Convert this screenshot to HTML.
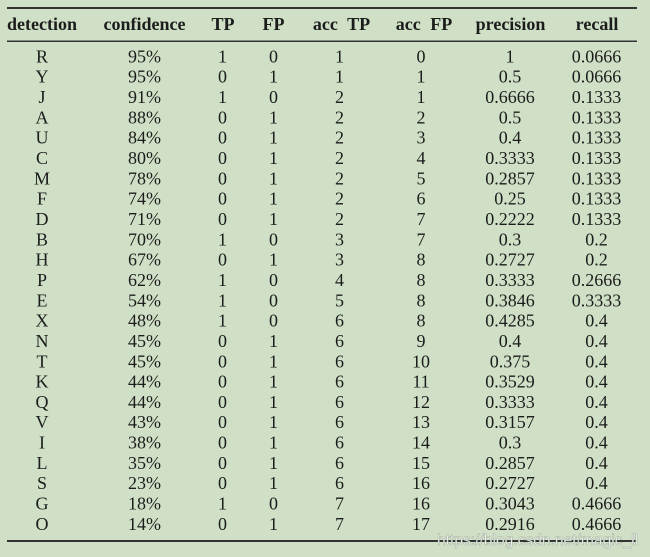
<!DOCTYPE html>
<html><head><meta charset="utf-8"><style>
html,body{margin:0;padding:0;background:#cfe0c6;}
svg{display:block;}
text{font-family:"Liberation Serif","Times New Roman",serif;font-size:18px;fill:#1c1c1c;}
.h{font-weight:bold;}
.wm{font-family:"Liberation Sans",Arial,sans-serif;font-size:15.6px;fill:#ffffff;fill-opacity:0.92;stroke:#8f998b;stroke-width:0.6;stroke-opacity:0.7;}
</style></head><body>
<svg width="650" height="557" viewBox="0 0 650 557" xmlns="http://www.w3.org/2000/svg">
<rect width="650" height="557" fill="#cfe0c6"/>
<rect x="7" y="7" width="630" height="2" fill="#333"/>
<rect x="7" y="40.5" width="630" height="1.5" fill="#333"/>
<rect x="7" y="540" width="630" height="2" fill="#333"/>
<g text-anchor="middle">
<text class="h" x="42" y="30">detection</text>
<text class="h" x="144.5" y="30">confidence</text>
<text class="h" x="223" y="30">TP</text>
<text class="h" x="273.5" y="30">FP</text>
<text class="h" x="341.5" y="30" word-spacing="5">acc TP</text>
<text class="h" x="424" y="30" word-spacing="5">acc FP</text>
<text class="h" x="510.5" y="30">precision</text>
<text class="h" x="597" y="30">recall</text>
</g>
<g id="rows" text-anchor="middle"></g>
<text class="wm" x="437" y="545">https://blog.csdn.net/magic_ll</text>
</svg>
<script>
var d=[["R","95%",1,0,1,0,"1","0.0666"],["Y","95%",0,1,1,1,"0.5","0.0666"],["J","91%",1,0,2,1,"0.6666","0.1333"],["A","88%",0,1,2,2,"0.5","0.1333"],["U","84%",0,1,2,3,"0.4","0.1333"],["C","80%",0,1,2,4,"0.3333","0.1333"],["M","78%",0,1,2,5,"0.2857","0.1333"],["F","74%",0,1,2,6,"0.25","0.1333"],["D","71%",0,1,2,7,"0.2222","0.1333"],["B","70%",1,0,3,7,"0.3","0.2"],["H","67%",0,1,3,8,"0.2727","0.2"],["P","62%",1,0,4,8,"0.3333","0.2666"],["E","54%",1,0,5,8,"0.3846","0.3333"],["X","48%",1,0,6,8,"0.4285","0.4"],["N","45%",0,1,6,9,"0.4","0.4"],["T","45%",0,1,6,10,"0.375","0.4"],["K","44%",0,1,6,11,"0.3529","0.4"],["Q","44%",0,1,6,12,"0.3333","0.4"],["V","43%",0,1,6,13,"0.3157","0.4"],["I","38%",0,1,6,14,"0.3","0.4"],["L","35%",0,1,6,15,"0.2857","0.4"],["S","23%",0,1,6,16,"0.2727","0.4"],["G","18%",1,0,7,16,"0.3043","0.4666"],["O","14%",0,1,7,17,"0.2916","0.4666"]];
var xs=[42,144.5,222.5,273.5,339.5,421,510,596.5];
var g=document.getElementById("rows"),ns="http://www.w3.org/2000/svg";
d.forEach(function(r,i){var y=62.3+i*20.33;r.forEach(function(v,j){var t=document.createElementNS(ns,"text");t.setAttribute("x",xs[j]);t.setAttribute("y",y.toFixed(2));t.textContent=String(v);g.appendChild(t);});});
</script>
</body></html>
